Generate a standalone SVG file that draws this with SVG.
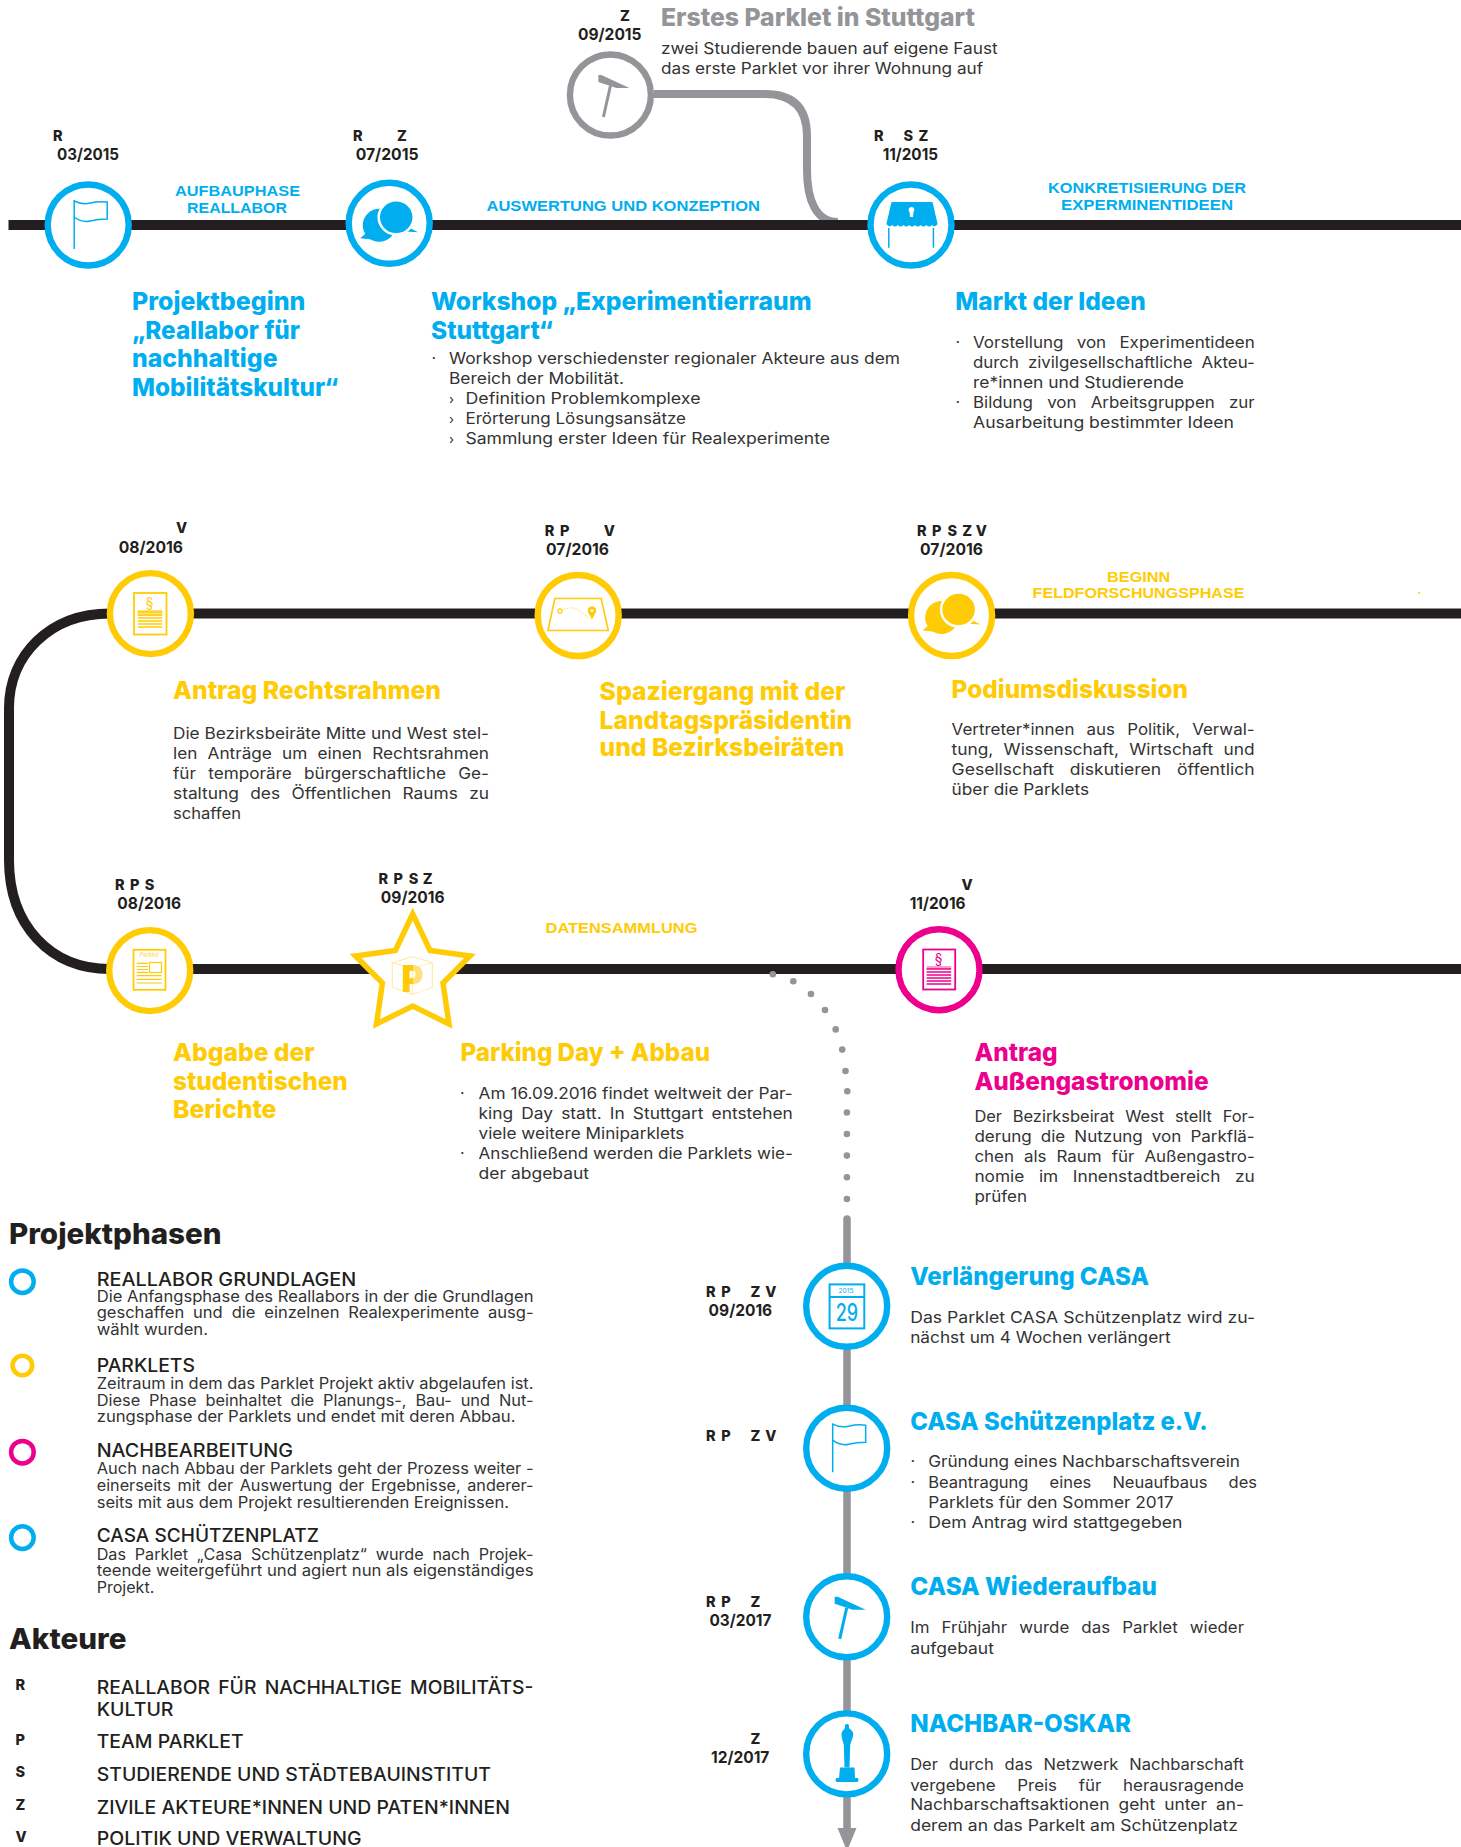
<svg xmlns="http://www.w3.org/2000/svg" width="1461" height="1847" viewBox="0 0 1461 1847">
<style>
text{font-family:Inter,"Open Sans","Liberation Sans",sans-serif;fill:#333;}
text.b{font-size:16px;font-weight:400;}
text.h{font-size:24.5px;font-weight:800;}
text.d{font-size:16.5px;font-weight:700;fill:#231f20;}
text.a{font-size:14.5px;font-weight:800;fill:#231f20;}
text.l{font-family:"Liberation Sans",Arial,sans-serif;font-size:14.6px;font-weight:700;}
text.s{font-size:15.5px;font-weight:400;}
text.u{font-size:18.5px;font-weight:500;fill:#231f20;}
text.H{font-size:28px;font-weight:800;fill:#231f20;}
text.m{font-size:13px;}
.cy{fill:#00aeef!important;color:#00aeef;}
.ye{fill:#ffcb05!important;color:#ffcb05;}
.ma{fill:#ec008c!important;color:#ec008c;}
.gr{fill:#939598!important;color:#939598;}
circle.n{fill:#fff;stroke-width:6.4;}
circle.c{stroke:#00aeef;} circle.y{stroke:#ffcb05;} circle.m{stroke:#ec008c;} circle.g{stroke:#939598;}
.track{fill:none;stroke:#231f20;stroke-width:10;}
.side{fill:none;stroke:#939598;stroke-width:8;}
.dot{fill:#939598;}
.ring{fill:none;}
</style>
<defs>
<g id="flag"><path d="M-14 -25V24M-14 -24Q-6 -20 2 -22T19 -23V-6Q10 -6 2 -4T-14 -8" fill="none" stroke="currentColor" stroke-width="1.5"/></g>
<g id="hammer"><path d="M-12 -20L-9 -20L19 -7L6 -7L-12 -13Z" fill="currentColor"/><path d="M0 -9L-7 22" fill="none" stroke="currentColor" stroke-width="3"/></g>
<g id="bubbles"><circle cx="-10" cy="2" r="16.5" fill="currentColor"/><path d="M-21 8L-29 15L-10 17Z" fill="currentColor"/><path d="M17 3L29 9L12 8Z" fill="currentColor"/><ellipse cx="7" cy="-6" rx="17.5" ry="17" fill="currentColor" stroke="#fff" stroke-width="2.5"/></g>
<g id="doclines"><path d="M0 0H24.6M0 3H24.6M0 6H24.6M0 9H24.6M0 12H24.6M0 15H24.6" fill="none" stroke="currentColor" stroke-width="1.4"/></g>
</defs>

<g id="connectors">
<path class="side" d="M654 94H765Q807 94 807 136V170C807 198 815 222 838 222"/>
<path class="track" d="M8.5 225H1461"/>
<path class="track" d="M110 613.4C50 613.4 9 655 9 708V860C9 925 50 969 110 969H1461"/>
<path class="track" d="M110 613.4H1461"/>
<g id="dotted-link">
<circle class="dot" cx="772.8" cy="974.3" r="3.3"/><circle class="dot" cx="793.3" cy="981.3" r="3.3"/><circle class="dot" cx="811" cy="994" r="3.3"/><circle class="dot" cx="825" cy="1010" r="3.3"/><circle class="dot" cx="835.7" cy="1029.4" r="3.3"/><circle class="dot" cx="842.2" cy="1049.6" r="3.3"/><circle class="dot" cx="845.5" cy="1071" r="3.3"/><circle class="dot" cx="847.3" cy="1091.3" r="3.3"/><circle class="dot" cx="846.9" cy="1112.5" r="3.3"/><circle class="dot" cx="846.9" cy="1134" r="3.3"/><circle class="dot" cx="846.9" cy="1155.6" r="3.3"/><circle class="dot" cx="846.9" cy="1177.2" r="3.3"/><circle class="dot" cx="846.9" cy="1199" r="3.3"/>
</g>
<path d="M847 1219V1832" fill="none" stroke="#939598" stroke-width="7.5" stroke-linecap="round"/>
<path d="M837.5 1828H856.5L847 1851Z" fill="#939598"/>
</g>

<g id="phase-labels">
<text class="l cy" x="175" y="195.5" textLength="125" lengthAdjust="spacingAndGlyphs">AUFBAUPHASE</text>
<text class="l cy" x="187" y="212.5" textLength="100" lengthAdjust="spacingAndGlyphs">REALLABOR</text>
<text class="l cy" x="486.5" y="211" textLength="273.5" lengthAdjust="spacingAndGlyphs">AUSWERTUNG UND KONZEPTION</text>
<text class="l cy" x="1048" y="192.5" textLength="198" lengthAdjust="spacingAndGlyphs">KONKRETISIERUNG DER</text>
<text class="l cy" x="1061" y="209.5" textLength="172" lengthAdjust="spacingAndGlyphs">EXPERMINENTIDEEN</text>
<text class="l ye" x="1107" y="581.6" textLength="63.4" lengthAdjust="spacingAndGlyphs">BEGINN</text>
<text class="l ye" x="1032.6" y="598.4" textLength="211.8" lengthAdjust="spacingAndGlyphs">FELDFORSCHUNGSPHASE</text>
<text class="l ye" x="545.6" y="933.4" textLength="151.8" lengthAdjust="spacingAndGlyphs">DATENSAMMLUNG</text>
<circle cx="1419" cy="593" r="1" fill="#ffcb05"/>
</g>

<g id="node-projektbeginn">
<circle class="n c" cx="88.2" cy="225" r="40.5"/>
<use href="#flag" x="88.2" y="225" class="cy"/>
<text class="a" x="53" y="141">R</text>
<text class="d" x="57" y="160" textLength="62" lengthAdjust="spacingAndGlyphs">03/2015</text>
<text class="h cy" x="132" y="310" textLength="173.4" lengthAdjust="spacingAndGlyphs">Projektbeginn</text>
<text class="h cy" x="132" y="339" textLength="168" lengthAdjust="spacingAndGlyphs">„Reallabor für</text>
<text class="h cy" x="132" y="367" textLength="145.5" lengthAdjust="spacingAndGlyphs">nachhaltige</text>
<text class="h cy" x="132" y="395.7" textLength="206.5" lengthAdjust="spacingAndGlyphs">Mobilitätskultur“</text>
</g>

<g id="node-workshop">
<circle class="n c" cx="389.2" cy="223.3" r="40.5"/>
<use href="#bubbles" x="389.2" y="223.3" class="cy"/>
<text class="a" y="141"><tspan x="353">R</tspan> <tspan x="397">Z</tspan></text>
<text class="d" x="355.7" y="160" textLength="62.8" lengthAdjust="spacingAndGlyphs">07/2015</text>
<text class="h cy" x="431" y="310" textLength="380.5" lengthAdjust="spacingAndGlyphs">Workshop „Experimentierraum</text>
<text class="h cy" x="431" y="339" textLength="122" lengthAdjust="spacingAndGlyphs">Stuttgart“</text>
<text class="b" x="431.5" y="364" font-weight="700">·</text>
<text class="b" x="449" y="364" textLength="451" lengthAdjust="spacingAndGlyphs">Workshop verschiedenster regionaler Akteure aus dem</text>
<text class="b" x="449" y="384" textLength="175" lengthAdjust="spacingAndGlyphs">Bereich der Mobilität.</text>
<text class="b m" x="449" y="404">›</text>
<text class="b" x="465.5" y="404" textLength="235" lengthAdjust="spacingAndGlyphs">Definition Problemkomplexe</text>
<text class="b m" x="449" y="424">›</text>
<text class="b" x="465.5" y="424" textLength="220.5" lengthAdjust="spacingAndGlyphs">Erörterung Lösungsansätze</text>
<text class="b m" x="449" y="444">›</text>
<text class="b" x="465.5" y="444" textLength="364.5" lengthAdjust="spacingAndGlyphs">Sammlung erster Ideen für Realexperimente</text>
</g>

<g id="node-erstes-parklet">
<circle class="n g" cx="610.4" cy="95" r="40.5"/>
<use href="#hammer" x="610.4" y="95" class="gr"/>
<text class="a" x="620" y="21">Z</text>
<text class="d" x="578" y="40" textLength="63.5" lengthAdjust="spacingAndGlyphs">09/2015</text>
<text class="h gr" x="661" y="26" textLength="314" lengthAdjust="spacingAndGlyphs">Erstes Parklet in Stuttgart</text>
<text class="b" x="661" y="54" textLength="336.7" lengthAdjust="spacingAndGlyphs">zwei Studierende bauen auf eigene Faust</text>
<text class="b" x="661" y="74" textLength="322" lengthAdjust="spacingAndGlyphs">das erste Parklet vor ihrer Wohnung auf</text>
</g>

<g id="node-markt">
<circle class="n c" cx="911" cy="225" r="40.5"/>
<path class="cy" d="M891.5 202H932.5L937.6 224Q935 228 932 225Q929 228 926.3 225Q923.6 228 920.6 225Q917.9 228 915 225Q912 228 909.2 225Q906.4 228 903.5 225Q900.7 228 897.8 225Q895 228 892.1 225Q889.3 228 886.4 224Z"/>
<path d="M911.5 207C908.5 207 908 210 909.5 212L910 217H913L913.5 212C915 210 914.5 207 911.5 207Z" fill="#fff"/>
<path d="M888.8 228V247.7M933.4 228V247.7" fill="none" stroke="#00aeef" stroke-width="1.5"/>
<text class="a" y="141"><tspan x="874">R</tspan> <tspan x="903.6">S</tspan> <tspan x="918.5">Z</tspan></text>
<text class="d" x="882.7" y="160" textLength="55.3" lengthAdjust="spacingAndGlyphs">11/2015</text>
<text class="h cy" x="955.3" y="310" textLength="190.4" lengthAdjust="spacingAndGlyphs">Markt der Ideen</text>
<text class="b" x="955.5" y="348" font-weight="700">·</text>
<text class="b" x="973" y="348" textLength="281.7" lengthAdjust="spacingAndGlyphs" word-spacing="8">Vorstellung von Experimentideen</text>
<text class="b" x="973" y="368" textLength="281.7" lengthAdjust="spacingAndGlyphs" word-spacing="4">durch zivilgesellschaftliche Akteu-</text>
<text class="b" x="973" y="388" textLength="211" lengthAdjust="spacingAndGlyphs">re*innen und Studierende</text>
<text class="b" x="955.5" y="408" font-weight="700">·</text>
<text class="b" x="973" y="408" textLength="281.7" lengthAdjust="spacingAndGlyphs" word-spacing="9">Bildung von Arbeitsgruppen zur</text>
<text class="b" x="973" y="428" textLength="261" lengthAdjust="spacingAndGlyphs">Ausarbeitung bestimmter Ideen</text>
</g>

<g id="node-antrag-rechtsrahmen">
<circle class="n y" cx="150.4" cy="613.6" r="40.5"/>
<rect x="134" y="593" width="32.5" height="41.5" fill="none" stroke="#ffcb05" stroke-width="1.8"/>
<text class="ye" x="149.7" y="608" font-size="14" text-anchor="middle">§</text>
<rect x="137.7" y="610" width="24.6" height="6" fill="#ffe27f"/>
<use href="#doclines" x="137.7" y="612" class="ye"/>
<text class="a" x="176" y="533">V</text>
<text class="d" x="118.7" y="553.3" textLength="64.3" lengthAdjust="spacingAndGlyphs">08/2016</text>
<text class="h ye" x="173" y="699" textLength="268" lengthAdjust="spacingAndGlyphs">Antrag Rechtsrahmen</text>
<text class="b" x="173" y="738.9" textLength="316" lengthAdjust="spacingAndGlyphs">Die Bezirksbeiräte Mitte und West stel-</text>
<text class="b" x="173" y="759.1" textLength="316" lengthAdjust="spacingAndGlyphs" word-spacing="5">len Anträge um einen Rechtsrahmen</text>
<text class="b" x="173" y="778.8" textLength="316" lengthAdjust="spacingAndGlyphs" word-spacing="7">für temporäre bürgerschaftliche Ge-</text>
<text class="b" x="173" y="799" textLength="316" lengthAdjust="spacingAndGlyphs" word-spacing="6">staltung des Öffentlichen Raums zu</text>
<text class="b" x="173" y="818.8" textLength="68" lengthAdjust="spacingAndGlyphs">schaffen</text>
</g>

<g id="node-spaziergang">
<circle class="n y" cx="578.2" cy="615.5" r="40.5"/>
<path d="M554.8 598.5H601.2L608.3 630.5H548Z" fill="none" stroke="#ffcb05" stroke-width="1.6"/>
<circle cx="560" cy="611" r="2.1" fill="none" stroke="#ffcb05" stroke-width="1.2"/>
<path d="M564 609.5Q572 606 578 610T590 619" fill="none" stroke="#ffcb05" stroke-width="1" stroke-dasharray="1 1.6"/>
<path d="M592 619.5L588.2 612.5A4.3 4.3 0 1 1 595.8 612.5Z" fill="#ffcb05"/>
<circle cx="592" cy="610.5" r="1.6" fill="#fff"/>
<text class="a" y="535.8"><tspan x="544.7">R</tspan> <tspan x="560">P</tspan> <tspan x="603.8">V</tspan></text>
<text class="d" x="546" y="554.8" textLength="63" lengthAdjust="spacingAndGlyphs">07/2016</text>
<text class="h ye" x="599.6" y="700" textLength="245.9" lengthAdjust="spacingAndGlyphs">Spaziergang mit der</text>
<text class="h ye" x="599.6" y="728.6" textLength="252.4" lengthAdjust="spacingAndGlyphs">Landtagspräsidentin</text>
<text class="h ye" x="599.6" y="756.2" textLength="244.9" lengthAdjust="spacingAndGlyphs">und Bezirksbeiräten</text>
</g>

<g id="node-podiumsdiskussion">
<circle class="n y" cx="951.6" cy="615.5" r="40.5"/>
<use href="#bubbles" x="951.6" y="615.5" class="ye"/>
<text class="a" y="535.8"><tspan x="917">R</tspan> <tspan x="932">P</tspan> <tspan x="947.4">S</tspan> <tspan x="962.3">Z</tspan> <tspan x="975.8">V</tspan></text>
<text class="d" x="920" y="554.8" textLength="63" lengthAdjust="spacingAndGlyphs">07/2016</text>
<text class="h ye" x="951.6" y="698.3" textLength="236.4" lengthAdjust="spacingAndGlyphs">Podiumsdiskussion</text>
<text class="b" x="951.6" y="735" textLength="303" lengthAdjust="spacingAndGlyphs" word-spacing="7">Vertreter*innen aus Politik, Verwal-</text>
<text class="b" x="951.6" y="755" textLength="303" lengthAdjust="spacingAndGlyphs" word-spacing="5">tung, Wissenschaft, Wirtschaft und</text>
<text class="b" x="951.6" y="775" textLength="303" lengthAdjust="spacingAndGlyphs" word-spacing="10">Gesellschaft diskutieren öffentlich</text>
<text class="b" x="951.6" y="795" textLength="137.4" lengthAdjust="spacingAndGlyphs">über die Parklets</text>
</g>

<g id="node-abgabe">
<circle class="n y" cx="149.7" cy="970.6" r="40.5"/>
<rect x="133.5" y="949.8" width="32" height="40" fill="none" stroke="#ffcb05" stroke-width="1.8"/>
<text x="149.3" y="956.7" font-size="5.5" font-weight="700" text-anchor="middle" style="fill:#ffe27f">Parklet</text>
<rect x="149.5" y="962.5" width="12" height="10" fill="none" stroke="#ffcb05" stroke-width="1.2"/>
<path d="M136.7 963.3H148M136.7 966.5H148M136.7 969.5H148M136.7 972.3H148M136.7 975.7H161.7M136.7 979.3H161.7M136.7 983H161.7" fill="none" stroke="#ffcb05" stroke-width="1.2"/>
<text class="a" y="889.8"><tspan x="115">R</tspan> <tspan x="129.9">P</tspan> <tspan x="144.8">S</tspan></text>
<text class="d" x="117.3" y="908.7" textLength="63.7" lengthAdjust="spacingAndGlyphs">08/2016</text>
<text class="h ye" x="173" y="1060.7" textLength="141.7" lengthAdjust="spacingAndGlyphs">Abgabe der</text>
<text class="h ye" x="173" y="1090.2" textLength="174.8" lengthAdjust="spacingAndGlyphs">studentischen</text>
<text class="h ye" x="173" y="1118" textLength="103.5" lengthAdjust="spacingAndGlyphs">Berichte</text>
</g>

<g id="node-parking-day">
<path d="M412.7 914L430 950.5L470 956L443 983L449 1024L412.7 1006L376.5 1024L382.4 983L355.5 956L395.4 950.5Z" fill="#fff" stroke="#ffcb05" stroke-width="5.5" stroke-miterlimit="10"/>
<path d="M392.3 962.7L412.7 956.7L432.3 962.7V987.3L412.7 994.3L392.3 987.3ZM392.3 962.7L412.7 968L432.3 962.7M412.7 968V994.3" fill="none" stroke="#ffe27f" stroke-width="0.8"/>
<text class="ye" x="401.5" y="992" font-size="37" font-weight="900" textLength="22" lengthAdjust="spacingAndGlyphs">P</text>
<rect x="413" y="962" width="13" height="30" fill="#fff" fill-opacity="0.45"/>
<text class="a" y="883.8"><tspan x="378.5">R</tspan> <tspan x="393.4">P</tspan> <tspan x="408.8">S</tspan> <tspan x="422.7">Z</tspan></text>
<text class="d" x="380.8" y="902.8" textLength="63.8" lengthAdjust="spacingAndGlyphs">09/2016</text>
<text class="h ye" x="460.4" y="1060.7" textLength="249.6" lengthAdjust="spacingAndGlyphs">Parking Day + Abbau</text>
<text class="b" x="460" y="1098.8" font-weight="700">·</text>
<text class="b" x="478.6" y="1098.8" textLength="314.2" lengthAdjust="spacingAndGlyphs">Am 16.09.2016 findet weltweit der Par-</text>
<text class="b" x="478.6" y="1119" textLength="314.2" lengthAdjust="spacingAndGlyphs" word-spacing="3">king Day statt. In Stuttgart entstehen</text>
<text class="b" x="478.6" y="1139.2" textLength="205.8" lengthAdjust="spacingAndGlyphs">viele weitere Miniparklets</text>
<text class="b" x="460" y="1159" font-weight="700">·</text>
<text class="b" x="478.6" y="1159" textLength="314.2" lengthAdjust="spacingAndGlyphs">Anschließend werden die Parklets wie-</text>
<text class="b" x="478.6" y="1178.7" textLength="110.4" lengthAdjust="spacingAndGlyphs">der abgebaut</text>
</g>

<g id="node-antrag-aussengastronomie">
<circle class="n m" cx="939" cy="969.7" r="40.5"/>
<rect x="923.2" y="949.5" width="32" height="40" fill="none" stroke="#ec008c" stroke-width="1.8"/>
<text class="ma" x="938.6" y="964" font-size="14" text-anchor="middle">§</text>
<rect x="926.6" y="966" width="24.6" height="3" fill="#f7a0cf"/>
<use href="#doclines" x="926.6" y="969" class="ma"/>
<text class="a" x="961.4" y="889.8">V</text>
<text class="d" x="909.7" y="908.7" textLength="55.9" lengthAdjust="spacingAndGlyphs">11/2016</text>
<text class="h ma" x="974.4" y="1060.7" textLength="83.3" lengthAdjust="spacingAndGlyphs">Antrag</text>
<text class="h ma" x="974.4" y="1089.6" textLength="234.2" lengthAdjust="spacingAndGlyphs">Außengastronomie</text>
<text class="b" x="974.4" y="1121.8" textLength="280.3" lengthAdjust="spacingAndGlyphs" word-spacing="6">Der Bezirksbeirat West stellt For-</text>
<text class="b" x="974.4" y="1142" textLength="280.3" lengthAdjust="spacingAndGlyphs" word-spacing="4">derung die Nutzung von Parkflä-</text>
<text class="b" x="974.4" y="1162.2" textLength="280.3" lengthAdjust="spacingAndGlyphs" word-spacing="5">chen als Raum für Außengastro-</text>
<text class="b" x="974.4" y="1181.9" textLength="280.3" lengthAdjust="spacingAndGlyphs" word-spacing="9">nomie im Innenstadtbereich zu</text>
<text class="b" x="974.4" y="1201.7" textLength="52.6" lengthAdjust="spacingAndGlyphs">prüfen</text>
</g>

<g id="node-verlaengerung">
<circle class="n c" cx="846.7" cy="1306.3" r="40.5"/>
<rect x="829.6" y="1284.4" width="34.7" height="44" fill="none" stroke="#00aeef" stroke-width="2"/>
<path d="M829 1297H865" stroke="#00aeef" stroke-width="2" fill="none"/>
<text class="cy" x="846" y="1293.3" font-size="6.5" text-anchor="middle" textLength="15" lengthAdjust="spacingAndGlyphs">2015</text>
<text class="cy" x="835.8" y="1321" font-size="24" font-weight="500" textLength="22.4" lengthAdjust="spacingAndGlyphs">29</text>
<text class="a" y="1296.6"><tspan x="706">R</tspan> <tspan x="721.2">P</tspan> <tspan x="750.6">Z</tspan> <tspan x="765.3">V</tspan></text>
<text class="d" x="708.6" y="1316.4" textLength="63.6" lengthAdjust="spacingAndGlyphs">09/2016</text>
<text class="h cy" x="910.2" y="1285" textLength="238.8" lengthAdjust="spacingAndGlyphs">Verlängerung CASA</text>
<text class="b" x="910.2" y="1323.4" textLength="344.8" lengthAdjust="spacingAndGlyphs">Das Parklet CASA Schützenplatz wird zu-</text>
<text class="b" x="910.2" y="1343" textLength="260.4" lengthAdjust="spacingAndGlyphs">nächst um 4 Wochen verlängert</text>
</g>

<g id="node-casa-verein">
<circle class="n c" cx="846.7" cy="1448.2" r="40.5"/>
<use href="#flag" x="846.7" y="1448.2" class="cy"/>
<text class="a" y="1441.4"><tspan x="706">R</tspan> <tspan x="721.2">P</tspan> <tspan x="750.6">Z</tspan> <tspan x="765.3">V</tspan></text>
<text class="h cy" x="910.2" y="1429.5" textLength="297.6" lengthAdjust="spacingAndGlyphs">CASA Schützenplatz e.V.</text>
<text class="b" x="910.5" y="1467.4" font-weight="700">·</text>
<text class="b" x="928.2" y="1467.4" textLength="311.8" lengthAdjust="spacingAndGlyphs">Gründung eines Nachbarschaftsverein</text>
<text class="b" x="910.5" y="1487.7" font-weight="700">·</text>
<text class="b" x="928.2" y="1487.7" textLength="328.8" lengthAdjust="spacingAndGlyphs" word-spacing="16">Beantragung eines Neuaufbaus des</text>
<text class="b" x="928.2" y="1507.5" textLength="245.3" lengthAdjust="spacingAndGlyphs">Parklets für den Sommer 2017</text>
<text class="b" x="910.5" y="1527.7" font-weight="700">·</text>
<text class="b" x="928.2" y="1527.7" textLength="254.2" lengthAdjust="spacingAndGlyphs">Dem Antrag wird stattgegeben</text>
</g>

<g id="node-wiederaufbau">
<circle class="n c" cx="846.7" cy="1616.8" r="40.5"/>
<use href="#hammer" x="846.7" y="1616.8" class="cy"/>
<text class="a" y="1607.3"><tspan x="706">R</tspan> <tspan x="721.2">P</tspan> <tspan x="750.6">Z</tspan></text>
<text class="d" x="709.4" y="1626.3" textLength="62" lengthAdjust="spacingAndGlyphs">03/2017</text>
<text class="h cy" x="910.2" y="1595.4" textLength="246.8" lengthAdjust="spacingAndGlyphs">CASA Wiederaufbau</text>
<text class="b" x="910.2" y="1633.3" textLength="333.8" lengthAdjust="spacingAndGlyphs" word-spacing="7">Im Frühjahr wurde das Parklet wieder</text>
<text class="b" x="910.2" y="1653.6" textLength="83.7" lengthAdjust="spacingAndGlyphs">aufgebaut</text>
</g>

<g id="node-oskar">
<circle class="n c" cx="846.7" cy="1753.9" r="40.5"/>
<path class="cy" d="M847 1724C845 1724 844.7 1726 845 1728C844 1730 842 1730.5 841.5 1734C841.3 1738 843 1741 843.8 1745L844.5 1767.5H849.5L850.2 1745C851 1741 853.3 1738 853.3 1734C852.8 1730.5 850.5 1730 849 1728C849.3 1726 849 1724 847 1724Z"/>
<path class="cy" d="M840 1767.5H854.5L855 1778H858L858.5 1781L857 1782H837L835.5 1781L836 1778H839Z"/>
<text class="a" x="750.6" y="1744">Z</text>
<text class="d" x="711" y="1763.4" textLength="58.4" lengthAdjust="spacingAndGlyphs">12/2017</text>
<text class="h cy" x="910.2" y="1732.4" textLength="220.8" lengthAdjust="spacingAndGlyphs">NACHBAR-OSKAR</text>
<text class="b" x="910.2" y="1770.4" textLength="333.8" lengthAdjust="spacingAndGlyphs" word-spacing="6">Der durch das Netzwerk Nachbarschaft</text>
<text class="b" x="910.2" y="1790.6" textLength="333.8" lengthAdjust="spacingAndGlyphs" word-spacing="16">vergebene Preis für herausragende</text>
<text class="b" x="910.2" y="1810.4" textLength="333.8" lengthAdjust="spacingAndGlyphs" word-spacing="4">Nachbarschaftsaktionen geht unter an-</text>
<text class="b" x="910.2" y="1830.6" textLength="327.8" lengthAdjust="spacingAndGlyphs">derem an das Parkelt am Schützenplatz</text>
</g>

<g id="legend-projektphasen">
<text class="H" x="9" y="1244.2" textLength="212.6" lengthAdjust="spacingAndGlyphs">Projektphasen</text>
<circle class="ring" cx="22.4" cy="1281.7" r="11.3" stroke="#00aeef" stroke-width="4.5"/>
<text class="u" x="96.7" y="1285.8" textLength="259.6" lengthAdjust="spacingAndGlyphs">REALLABOR GRUNDLAGEN</text>
<text class="s" x="96.7" y="1302.4" textLength="436.8" lengthAdjust="spacingAndGlyphs">Die Anfangsphase des Reallabors in der die Grundlagen</text>
<text class="s" x="96.7" y="1318.4" textLength="436.8" lengthAdjust="spacingAndGlyphs" word-spacing="4">geschaffen und die einzelnen Realexperimente ausg-</text>
<text class="s" x="96.7" y="1334.5" textLength="111.3" lengthAdjust="spacingAndGlyphs">wählt wurden.</text>
<circle class="ring" cx="22.4" cy="1365.5" r="9.8" stroke="#ffcb05" stroke-width="4.6"/>
<text class="u" x="96.7" y="1372" textLength="98.3" lengthAdjust="spacingAndGlyphs">PARKLETS</text>
<text class="s" x="96.7" y="1388.6" textLength="436.8" lengthAdjust="spacingAndGlyphs">Zeitraum in dem das Parklet Projekt aktiv abgelaufen ist.</text>
<text class="s" x="96.7" y="1405.5" textLength="436.8" lengthAdjust="spacingAndGlyphs" word-spacing="4">Diese Phase beinhaltet die Planungs-, Bau- und Nut-</text>
<text class="s" x="96.7" y="1422.4" textLength="418.8" lengthAdjust="spacingAndGlyphs">zungsphase der Parklets und endet mit deren Abbau.</text>
<circle class="ring" cx="22.4" cy="1452.2" r="11.3" stroke="#ec008c" stroke-width="4.5"/>
<text class="u" x="96.7" y="1457" textLength="196.3" lengthAdjust="spacingAndGlyphs">NACHBEARBEITUNG</text>
<text class="s" x="96.7" y="1474.4" textLength="436.8" lengthAdjust="spacingAndGlyphs">Auch nach Abbau der Parklets geht der Prozess weiter -</text>
<text class="s" x="96.7" y="1490.5" textLength="436.8" lengthAdjust="spacingAndGlyphs" word-spacing="2">einerseits mit der Auswertung der Ergebnisse, anderer-</text>
<text class="s" x="96.7" y="1507.5" textLength="412.3" lengthAdjust="spacingAndGlyphs">seits mit aus dem Projekt resultierenden Ereignissen.</text>
<circle class="ring" cx="22.4" cy="1537.6" r="11.3" stroke="#00aeef" stroke-width="4.5"/>
<text class="u" x="96.7" y="1542" textLength="222.3" lengthAdjust="spacingAndGlyphs">CASA SCHÜTZENPLATZ</text>
<text class="s" x="96.7" y="1559.5" textLength="436.8" lengthAdjust="spacingAndGlyphs" word-spacing="4">Das Parklet „Casa Schützenplatz“ wurde nach Projek-</text>
<text class="s" x="96.7" y="1576.4" textLength="436.8" lengthAdjust="spacingAndGlyphs">teende weitergeführt und agiert nun als eigenständiges</text>
<text class="s" x="96.7" y="1592.5" textLength="57.6" lengthAdjust="spacingAndGlyphs">Projekt.</text>
</g>

<g id="legend-akteure">
<text class="H" x="9" y="1648.6" textLength="117.5" lengthAdjust="spacingAndGlyphs">Akteure</text>
<text class="a" x="15.5" y="1690.3">R</text>
<text class="u" x="96.7" y="1693.6" textLength="436.8" lengthAdjust="spacingAndGlyphs" word-spacing="3">REALLABOR FÜR NACHHALTIGE MOBILITÄTS-</text>
<text class="u" x="96.7" y="1715.5" textLength="76.8" lengthAdjust="spacingAndGlyphs">KULTUR</text>
<text class="a" x="15.5" y="1745">P</text>
<text class="u" x="96.7" y="1748" textLength="147" lengthAdjust="spacingAndGlyphs">TEAM PARKLET</text>
<text class="a" x="15.5" y="1777">S</text>
<text class="u" x="96.7" y="1780.7" textLength="394.3" lengthAdjust="spacingAndGlyphs">STUDIERENDE UND STÄDTEBAUINSTITUT</text>
<text class="a" x="15.5" y="1810">Z</text>
<text class="u" x="96.7" y="1813.7" textLength="413.3" lengthAdjust="spacingAndGlyphs">ZIVILE AKTEURE*INNEN UND PATEN*INNEN</text>
<text class="a" x="15.5" y="1842">V</text>
<text class="u" x="96.7" y="1845" textLength="264.9" lengthAdjust="spacingAndGlyphs">POLITIK UND VERWALTUNG</text>
</g>
</svg>
